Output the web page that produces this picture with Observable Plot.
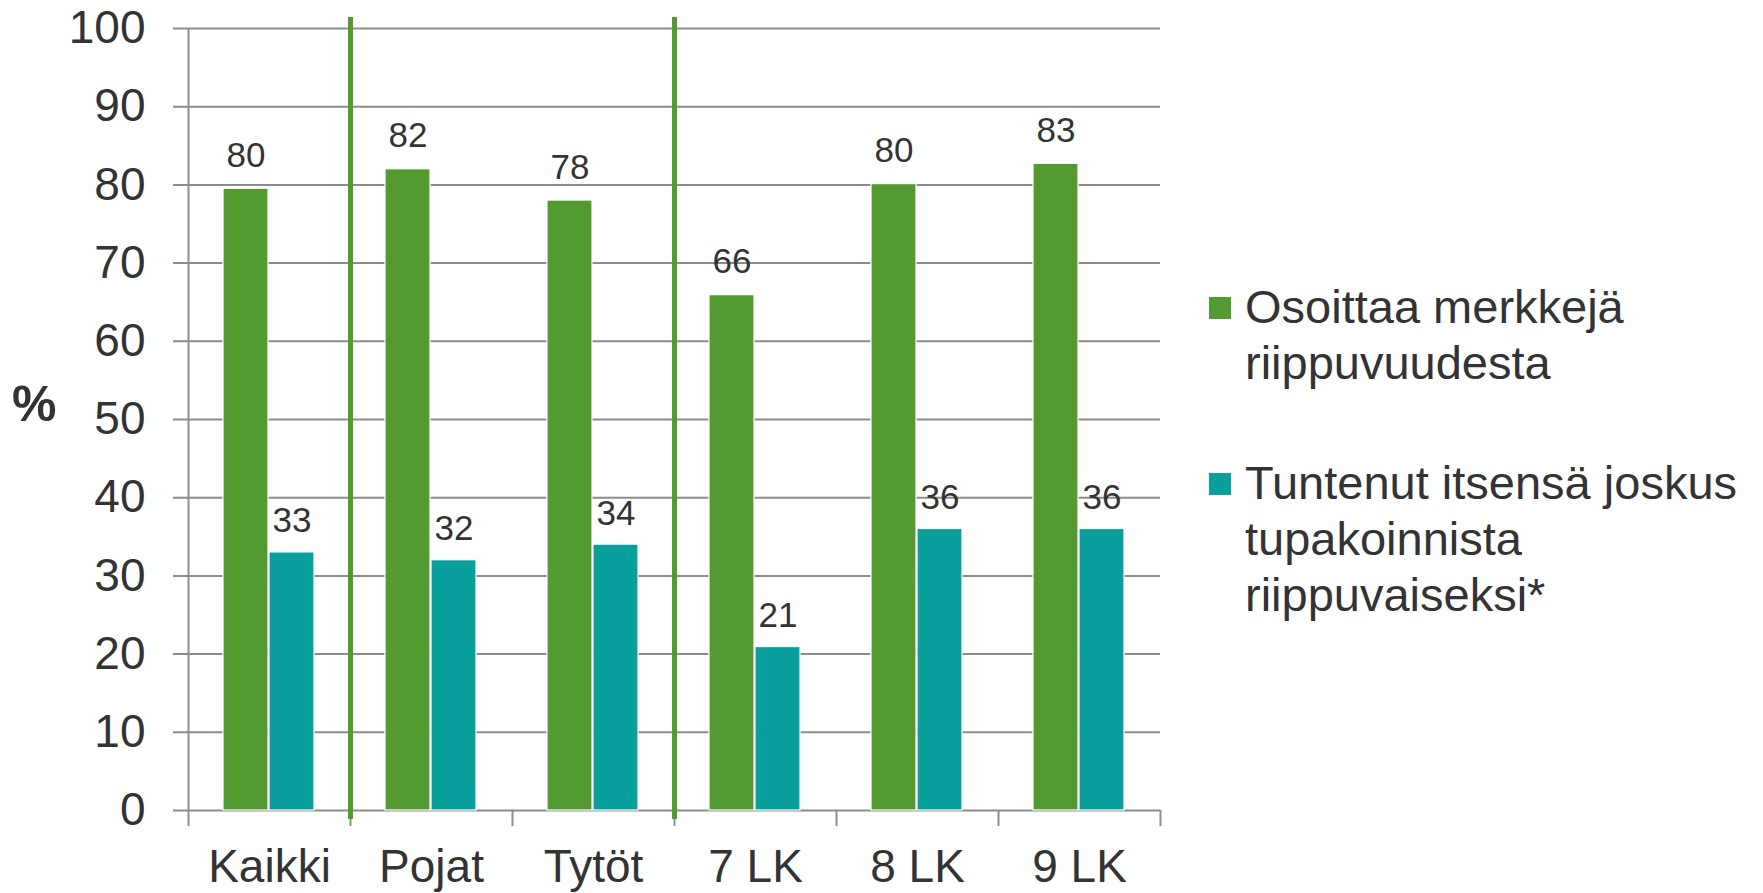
<!DOCTYPE html>
<html><head><meta charset="utf-8">
<script src="https://cdn.jsdelivr.net/npm/d3@7"></script>
<script src="https://cdn.jsdelivr.net/npm/@observablehq/plot@0.6"></script>
<style>
body{margin:0;background:#fff;font-family:"Liberation Sans",Arial,sans-serif;color:#333;}
#wrap{position:relative;width:1763px;height:893px;overflow:hidden;}
#wrap svg{position:absolute;left:0;top:0;}
#pct{position:absolute;left:12px;top:379px;font-weight:bold;font-size:50px;line-height:50px;color:#333;}
#legend{position:absolute;left:1209px;top:279px;}
.item{display:flex;align-items:flex-start;margin-bottom:64px;}
.sw{width:22px;height:22px;margin-top:18px;margin-right:14px;flex:none;}
.lt{font-size:47px;line-height:56px;color:#333;white-space:nowrap;}
</style></head><body><div id="wrap"></div>
<script>
const categories = ["Kaikki", "Pojat", "Tytöt", "7 LK", "8 LK", "9 LK"];
const greenValues = [79.5, 82, 78, 65.9, 80.1, 82.7];
const tealValues = [33, 32, 34, 20.9, 36, 36];
const seriesColors = ["#539b30", "#099f9c"];
const legendLines = [["Osoittaa merkkejä", "riippuvuudesta"], ["Tuntenut itsensä joskus", "tupakoinnista", "riippuvaiseksi*"]];
const yTicks = [0, 10, 20, 30, 40, 50, 60, 70, 80, 90, 100];
const separatorsBefore = ["Pojat", "7 LK"];
const yUnitLabel = "%";

const W = 1763, H = 893, ML = 188, MR = 603, MT = 28, MB = 83;
const bw = (W - ML - MR) / categories.length;
const plotH = H - MT - MB;
const gridColor = "#8c8c8c";

const greenRows = categories.map((c, i) => ({cat: c, value: greenValues[i]}));
const tealRows = categories.map((c, i) => ({cat: c, value: tealValues[i]}));

const chart = Plot.plot({
  width: W, height: H,
  marginLeft: ML, marginRight: MR, marginTop: MT, marginBottom: MB,
  x: {domain: categories, padding: 0},
  y: {domain: [0, 100]},
  style: {fontFamily: "'Liberation Sans', Arial, sans-serif", color: "#333", background: "white", overflow: "visible"},
  marks: [
    Plot.gridY(yTicks, {stroke: gridColor, strokeOpacity: 1, strokeWidth: 2, insetLeft: -15}),
    Plot.ruleX([categories[0]], {x: d => d, dx: -bw / 2, stroke: gridColor, strokeWidth: 2, insetBottom: -16}),
    Plot.ruleX(categories, {x: d => d, dx: bw / 2, stroke: gridColor, strokeWidth: 2, insetTop: plotH, insetBottom: -16}),
    Plot.barY(greenRows, {x: "cat", y: "value", fill: seriesColors[0], insetLeft: 35, insetRight: 82, stroke: "white", strokeWidth: 1.2}),
    Plot.barY(tealRows, {x: "cat", y: "value", fill: seriesColors[1], insetLeft: 81, insetRight: 36, stroke: "white", strokeWidth: 1.2}),
    Plot.ruleX(separatorsBefore, {x: d => d, dx: -bw / 2, stroke: seriesColors[0], strokeWidth: 5, insetTop: -11, insetBottom: -9}),
    Plot.text(greenRows, {x: "cat", y: "value", text: d => String(Math.round(d.value)), dx: -23.5, dy: -22, lineAnchor: "bottom", fontSize: 35, fill: "#333"}),
    Plot.text(tealRows, {x: "cat", y: "value", text: d => String(Math.round(d.value)), dx: 22.5, dy: -20, lineAnchor: "bottom", fontSize: 35, fill: "#333"}),
    Plot.axisY(yTicks, {tickSize: 0, tickPadding: 43, fontSize: 46, label: null, fill: "#333"}),
    Plot.axisX({tickSize: 0, tickPadding: 39, fontSize: 46, label: null, fill: "#333"})
  ]
});

const wrap = document.getElementById("wrap");
wrap.appendChild(chart);

const pct = document.createElement("div");
pct.id = "pct";
pct.textContent = yUnitLabel;
wrap.appendChild(pct);

const legend = document.createElement("div");
legend.id = "legend";
legendLines.forEach((lines, i) => {
  const item = document.createElement("div");
  item.className = "item";
  const sw = document.createElement("div");
  sw.className = "sw";
  sw.style.background = seriesColors[i];
  const lt = document.createElement("div");
  lt.className = "lt";
  lt.innerHTML = lines.join("<br>");
  item.appendChild(sw);
  item.appendChild(lt);
  legend.appendChild(item);
});
wrap.appendChild(legend);
</script>
</body></html>
